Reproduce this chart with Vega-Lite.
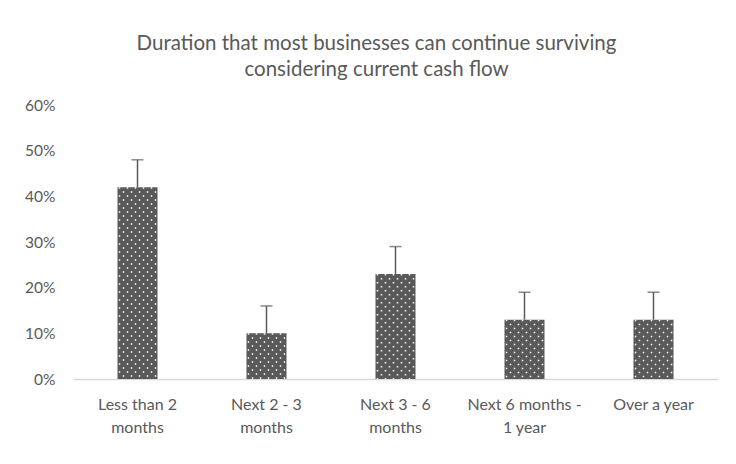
{
  "$schema": "https://vega.github.io/schema/vega-lite/v6.json",
  "width": 645,
  "height": 274,
  "autosize": {"type": "none"},
  "padding": {"left": 73, "top": 105, "right": 18, "bottom": 85},
  "background": "white",
  "config": {"view": {"stroke": null}, "font": "Lato"},
  "title": {
    "text": ["Duration that most businesses can continue surviving", "considering current cash flow"],
    "font": "Lato",
    "fontSize": 20.5,
    "fontWeight": "normal",
    "color": "#595959",
    "lineHeight": 26,
    "anchor": "middle",
    "dx": -19,
    "offset": 18
  },
  "data": {
    "values": [
      {"category": "Less than 2 months", "value": 0.42, "upper": 0.48},
      {"category": "Next 2 - 3 months", "value": 0.10, "upper": 0.16},
      {"category": "Next 3 - 6 months", "value": 0.23, "upper": 0.29},
      {"category": "Next 6 months - 1 year", "value": 0.13, "upper": 0.19},
      {"category": "Over a year", "value": 0.13, "upper": 0.19}
    ]
  },
  "encoding": {
    "x": {
      "field": "category",
      "type": "nominal",
      "sort": null,
      "scale": {"paddingInner": 0, "paddingOuter": 0},
      "axis": {
        "title": null,
        "labelAngle": 0,
        "ticks": false,
        "domainColor": "#d9d9d9",
        "domainWidth": 1.5,
        "labelFont": "Lato",
        "labelFontSize": 16,
        "labelColor": "#595959",
        "labelLineHeight": 23,
        "labelPadding": 17,
        "labelExpr": "datum.label == 'Less than 2 months' ? ['Less than 2', 'months'] : datum.label == 'Next 2 - 3 months' ? ['Next 2 - 3', 'months'] : datum.label == 'Next 3 - 6 months' ? ['Next 3 - 6', 'months'] : datum.label == 'Next 6 months - 1 year' ? ['Next 6 months -', '1 year'] : datum.label"
      }
    }
  },
  "layer": [
    {
      "mark": {"type": "bar", "width": 40, "color": "#595959"},
      "encoding": {
        "y": {
          "field": "value",
          "type": "quantitative",
          "scale": {"domain": [0, 0.6], "nice": false},
          "axis": {
            "title": null,
            "values": [0, 0.1, 0.2, 0.3, 0.4, 0.5, 0.6],
            "format": ".0%",
            "domain": false,
            "ticks": false,
            "grid": false,
            "labelPadding": 18,
            "labelFont": "Lato",
            "labelFontSize": 15.5,
            "labelColor": "#595959"
          }
        }
      }
    },
    {"mark": {"type": "rule", "xOffset": -18, "color": "#ffffff", "strokeWidth": 1.5, "strokeDash": [1.5, 6.5], "strokeDashOffset": 0}, "encoding": {"y": {"field": "value", "type": "quantitative"}, "y2": {"datum": 0}}},
    {"mark": {"type": "rule", "xOffset": -14, "color": "#ffffff", "strokeWidth": 1.5, "strokeDash": [1.5, 6.5], "strokeDashOffset": 4}, "encoding": {"y": {"field": "value", "type": "quantitative"}, "y2": {"datum": 0}}},
    {"mark": {"type": "rule", "xOffset": -10, "color": "#ffffff", "strokeWidth": 1.5, "strokeDash": [1.5, 6.5], "strokeDashOffset": 0}, "encoding": {"y": {"field": "value", "type": "quantitative"}, "y2": {"datum": 0}}},
    {"mark": {"type": "rule", "xOffset": -6, "color": "#ffffff", "strokeWidth": 1.5, "strokeDash": [1.5, 6.5], "strokeDashOffset": 4}, "encoding": {"y": {"field": "value", "type": "quantitative"}, "y2": {"datum": 0}}},
    {"mark": {"type": "rule", "xOffset": -2, "color": "#ffffff", "strokeWidth": 1.5, "strokeDash": [1.5, 6.5], "strokeDashOffset": 0}, "encoding": {"y": {"field": "value", "type": "quantitative"}, "y2": {"datum": 0}}},
    {"mark": {"type": "rule", "xOffset": 2, "color": "#ffffff", "strokeWidth": 1.5, "strokeDash": [1.5, 6.5], "strokeDashOffset": 4}, "encoding": {"y": {"field": "value", "type": "quantitative"}, "y2": {"datum": 0}}},
    {"mark": {"type": "rule", "xOffset": 6, "color": "#ffffff", "strokeWidth": 1.5, "strokeDash": [1.5, 6.5], "strokeDashOffset": 0}, "encoding": {"y": {"field": "value", "type": "quantitative"}, "y2": {"datum": 0}}},
    {"mark": {"type": "rule", "xOffset": 10, "color": "#ffffff", "strokeWidth": 1.5, "strokeDash": [1.5, 6.5], "strokeDashOffset": 4}, "encoding": {"y": {"field": "value", "type": "quantitative"}, "y2": {"datum": 0}}},
    {"mark": {"type": "rule", "xOffset": 14, "color": "#ffffff", "strokeWidth": 1.5, "strokeDash": [1.5, 6.5], "strokeDashOffset": 0}, "encoding": {"y": {"field": "value", "type": "quantitative"}, "y2": {"datum": 0}}},
    {"mark": {"type": "rule", "xOffset": 18, "color": "#ffffff", "strokeWidth": 1.5, "strokeDash": [1.5, 6.5], "strokeDashOffset": 4}, "encoding": {"y": {"field": "value", "type": "quantitative"}, "y2": {"datum": 0}}},
    {
      "mark": {"type": "rule", "color": "#595959", "strokeWidth": 1.5},
      "encoding": {"y": {"field": "value", "type": "quantitative"}, "y2": {"field": "upper"}}
    },
    {
      "mark": {"type": "tick", "color": "#595959", "thickness": 1.5, "size": 12},
      "encoding": {"y": {"field": "upper", "type": "quantitative"}}
    }
  ]
}
